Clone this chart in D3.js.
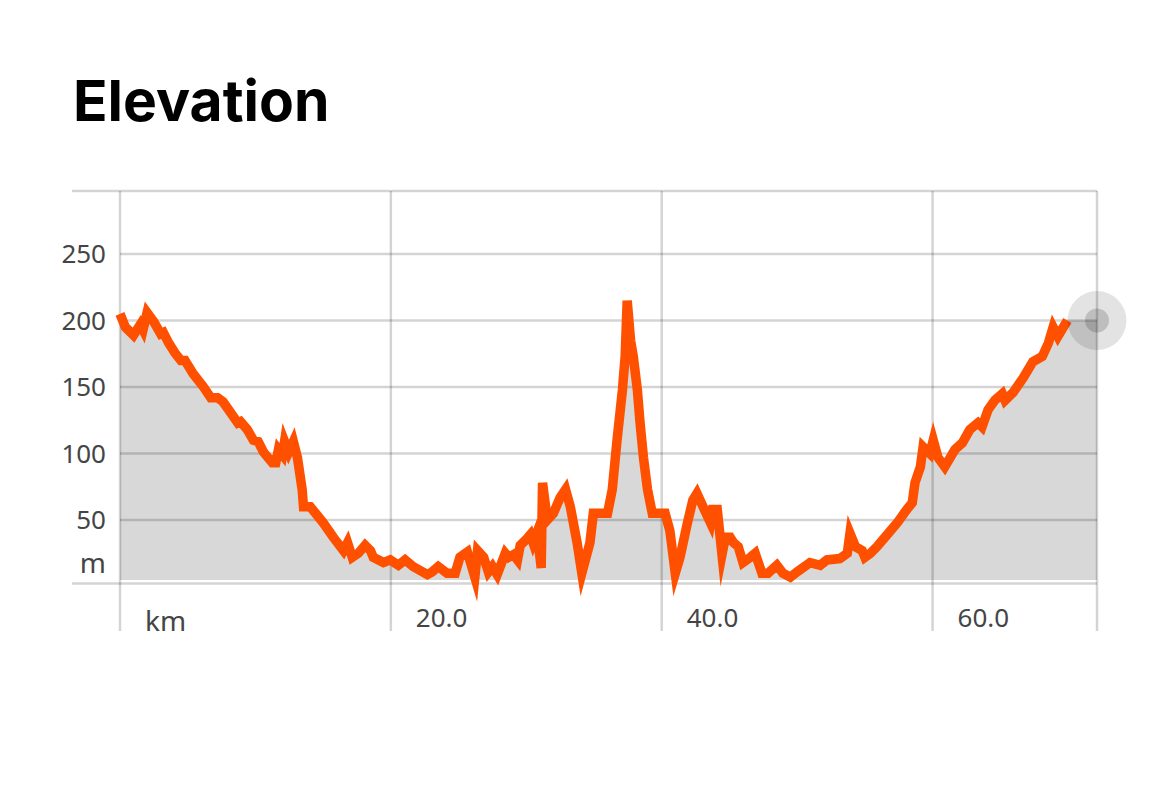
<!DOCTYPE html>
<html>
<head>
<meta charset="utf-8">
<script src="https://cdn.jsdelivr.net/npm/d3@7"></script>
<style>
  html, body { margin: 0; padding: 0; background: #ffffff; }
  svg { display: block; }
</style>
</head>
<body>
<svg id="chart" width="1170" height="801"></svg>
<script>
// ---- data ----
const title = "Elevation";
const distanceKm = [
  0.0, 0.4, 1.0, 1.5, 1.7, 2.0, 2.5, 3.0, 3.2, 3.6, 4.1, 4.5, 4.8, 5.4, 6.1, 6.7, 7.2, 7.6, 8.15, 8.7,
  8.9, 9.4, 9.85, 10.2, 10.6, 11.25, 11.5, 11.7, 12.0, 12.15, 12.45, 12.8, 13.1, 13.45, 13.55, 14.05, 15.0, 15.75, 16.5, 16.8,
  17.15, 17.6, 18.1, 18.5, 18.7, 19.45, 19.95, 20.55, 21.05, 21.65, 22.7, 23.05, 23.5, 24.15, 24.75, 25.1, 25.65, 26.2, 26.4, 26.85,
  27.2, 27.5, 27.85, 28.45, 28.7, 29.05, 29.35, 29.55, 30.05, 30.3, 30.5, 30.8, 31.1, 31.2, 31.55, 32.0, 32.5, 32.9, 33.25, 33.75,
  34.1, 34.7, 34.95, 36.0, 36.35, 36.7, 37.1, 37.3, 37.45, 37.7, 37.9, 38.2, 38.4, 38.65, 38.95, 39.3, 40.25, 40.6, 41.0, 41.35,
  41.9, 42.3, 42.6, 43.05, 43.6, 43.75, 44.1, 44.45, 44.7, 45.05, 45.3, 45.65, 46.0, 46.55, 46.9, 47.4, 47.85, 48.5, 48.95, 49.5,
  50.0, 50.95, 51.7, 52.2, 53.15, 53.7, 53.9, 54.3, 54.8, 55.0, 55.4, 55.9, 56.65, 57.4, 58.1, 58.5, 58.7, 59.1, 59.3, 59.8,
  60.05, 60.4, 60.9, 61.65, 62.2, 62.75, 63.35, 63.65, 64.1, 64.6, 65.15, 65.35, 65.95, 66.7, 67.4, 68.1, 68.55, 68.9, 69.25, 69.95,
  72.14
];
const elevationM = [
  205, 195, 189, 197, 193, 206, 199, 190, 191, 183, 175, 170, 170, 160, 151, 142, 142, 139, 131, 123,
  124, 118, 110, 109, 101, 93, 93, 103, 99, 109, 101, 109, 97, 73, 60, 60, 48, 37, 27, 33,
  22, 25, 31, 27, 22, 18, 20, 16, 20, 15, 9, 11, 15, 10, 10, 22, 26, 7, 27, 22,
  11, 15, 9, 25, 22, 24, 20, 31, 36, 39, 33, 41, 14, 78, 50, 55, 67, 73, 60, 33,
  10, 33, 55, 55, 73, 110, 148, 173, 215, 185, 173, 148, 123, 97, 73, 55, 55, 42, 10, 22,
  48, 65, 70, 60, 48, 58, 58, 24, 37, 37, 33, 30, 18, 22, 25, 10, 10, 16, 10, 7,
  11, 18, 16, 20, 21, 25, 40, 30, 27, 22, 25, 30, 39, 48, 58, 63, 78, 90, 105, 100,
  110, 97, 90, 103, 108, 118, 123, 120, 133, 140, 145, 140, 146, 157, 169, 173, 183, 195, 188, 200,
  200
];
const yTicks = [50, 100, 150, 200, 250];
const yTickLabels = ["50", "100", "150", "200", "250"];
const yUnit = "m";
const xTicks = [20, 40, 60];
const xTickLabels = ["20.0", "40.0", "60.0"];
const xUnit = "km";
const lineEndKm = 69.95;

// ---- layout ----
const svg = d3.select("#chart");
const pLeft = 120, pRight = 1097, pTop = 191, pBottom = 580;
const gridLeft = 72, vGridBottom = 631;

const data = distanceKm.map((k, i) => ({ k, e: elevationM[i] }));

const x = d3.scaleLinear().domain([0, d3.max(distanceKm)]).range([pLeft, pRight]);
const y = d3.scaleLinear().domain([4.9, 297.4]).range([pBottom, pTop]);

const fontAxis = "'Noto Sans', 'Open Sans', sans-serif";

// title
svg.append("text")
  .attr("x", 73).attr("y", 121)
  .attr("font-family", "Inter, 'Liberation Sans', sans-serif")
  .attr("font-weight", 700)
  .attr("font-size", 57)
  .attr("fill", "#000")
  .text(title);

// area
const area = d3.area()
  .x(d => x(d.k))
  .y0(pBottom)
  .y1(d => y(d.e));
svg.append("path")
  .datum(data)
  .attr("d", area)
  .attr("fill", "#d8d8d8");

// grid (drawn above area, semi-transparent)
const grid = svg.append("g").attr("stroke", "rgba(0,0,0,0.17)").attr("stroke-width", 2.5).attr("fill", "none");
grid.append("line").attr("x1", gridLeft).attr("x2", pRight).attr("y1", pTop).attr("y2", pTop);
grid.append("line").attr("x1", gridLeft).attr("x2", pRight).attr("y1", pBottom + 3.5).attr("y2", pBottom + 3.5);
grid.selectAll("line.h").data(yTicks).enter().append("line")
  .attr("class", "h")
  .attr("x1", pLeft).attr("x2", pRight)
  .attr("y1", d => y(d)).attr("y2", d => y(d));
grid.selectAll("line.v").data([0, ...xTicks]).enter().append("line")
  .attr("class", "v")
  .attr("x1", d => x(d)).attr("x2", d => x(d))
  .attr("y1", pTop).attr("y2", vGridBottom);
grid.append("line").attr("x1", pRight).attr("x2", pRight).attr("y1", pTop).attr("y2", vGridBottom);

// line
const line = d3.line().x(d => x(d.k)).y(d => y(d.e));
svg.append("path")
  .datum(data.filter(d => d.k <= lineEndKm))
  .attr("d", line)
  .attr("fill", "none")
  .attr("stroke", "#ff5000")
  .attr("stroke-width", 9.5)
  .attr("stroke-linejoin", "miter")
  .attr("stroke-miterlimit", 10);

// marker at the end
const last = data[data.length - 1];
svg.append("circle").attr("cx", x(last.k)).attr("cy", y(last.e)).attr("r", 29.5).attr("fill", "rgba(0,0,0,0.11)");
svg.append("circle").attr("cx", x(last.k)).attr("cy", y(last.e)).attr("r", 12).attr("fill", "rgba(0,0,0,0.16)");

// y labels
svg.selectAll("text.yl").data(yTicks).enter().append("text")
  .attr("class", "yl")
  .attr("x", 106).attr("y", d => y(d))
  .attr("dy", "0.35em")
  .attr("text-anchor", "end")
  .attr("font-family", fontAxis)
  .attr("font-size", 26)
  .attr("fill", "#454545")
  .text((d, i) => yTickLabels[i]);
svg.append("text")
  .attr("x", 106).attr("y", 573)
  .attr("text-anchor", "end")
  .attr("font-family", fontAxis)
  .attr("font-size", 28)
  .attr("fill", "#454545")
  .text(yUnit);

// x labels
svg.selectAll("text.xl").data(xTicks).enter().append("text")
  .attr("class", "xl")
  .attr("x", d => x(d) + 25).attr("y", 627)
  .attr("font-family", fontAxis)
  .attr("font-size", 26)
  .attr("fill", "#454545")
  .text((d, i) => xTickLabels[i]);
svg.append("text")
  .attr("x", x(0) + 25).attr("y", 631)
  .attr("font-family", fontAxis)
  .attr("font-size", 28)
  .attr("fill", "#454545")
  .text(xUnit);
</script>
</body>
</html>
